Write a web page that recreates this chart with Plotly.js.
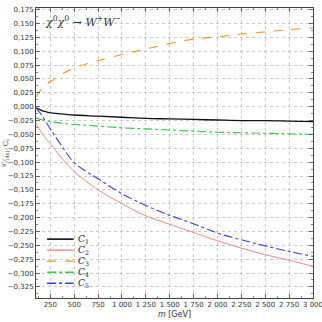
<!DOCTYPE html>
<html>
<head>
<meta charset="utf-8">
<script src="https://cdn.plot.ly/plotly-3.0.1.min.js"></script>
<style>
  html, body { margin: 0; padding: 0; background: #fff; }
  #chart { width: 322px; height: 322px; }
</style>
</head>
<body>
<div id="chart"></div>
<script>
// m [GeV]
const masses = [100, 150, 200, 250, 375, 500, 750, 1000, 1250, 1500, 1750, 2000, 2250, 2500, 2750, 3000];

// coefficient curves
const c1 = [-0.002, -0.006, -0.009, -0.011, -0.013, -0.015, -0.017, -0.019, -0.021, -0.022, -0.023, -0.024, -0.025, -0.025, -0.026, -0.027];
const c2 = [-0.030, -0.045, -0.057, -0.067, -0.094, -0.117, -0.150, -0.175, -0.197, -0.212, -0.227, -0.242, -0.255, -0.267, -0.277, -0.288];
const c3 = [0.018, 0.030, 0.039, 0.045, 0.059, 0.070, 0.083, 0.094, 0.104, 0.114, 0.122, 0.126, 0.131, 0.135, 0.139, 0.142];
const c4 = [-0.020, -0.023, -0.025, -0.027, -0.030, -0.032, -0.035, -0.038, -0.040, -0.042, -0.044, -0.046, -0.047, -0.048, -0.049, -0.050];
const c5 = [-0.002, -0.013, -0.026, -0.040, -0.072, -0.101, -0.130, -0.157, -0.178, -0.196, -0.211, -0.228, -0.240, -0.251, -0.261, -0.270];

const seriesNames = ['C<sub>1</sub>', 'C<sub>2</sub>', 'C<sub>3</sub>', 'C<sub>4</sub>', 'C<sub>5</sub>'];

// styles for each curve
const STYLES = [
    { color: '#111111', dash: 'solid', width: 1.3 },
    { color: '#f47a7a', dash: 'solid', width: 0.9 },
    { color: '#f7931e', dash: 'dash', width: 1.1 },
    { color: '#2ecc40', dash: 'dashdot', width: 1.1 },
    { color: '#3b3bf0', dash: 'dashdot', width: 1.1 }
];

const traces = [c1, c2, c3, c4, c5].map((vals, i) => ({
    x: masses,
    y: vals,
    type: 'scatter',
    mode: 'lines',
    name: seriesNames[i],
    showlegend: false,
    line: { color: STYLES[i].color, dash: STYLES[i].dash, width: STYLES[i].width, shape: 'spline' }
}));

// Compact legend (plotly's own legend rows are too tall for this size)
const legendShapes = [];
const legendLabels = [];
seriesNames.forEach((name, i) => {
    const yp = 0.203 - i * 0.038;
    legendShapes.push({
        type: 'line', xref: 'paper', yref: 'paper',
        x0: 0.04, x1: 0.136, y0: yp, y1: yp,
        line: { color: STYLES[i].color, dash: STYLES[i].dash, width: STYLES[i].width + 0.3 }
    });
    legendLabels.push({
        xref: 'paper', yref: 'paper', x: 0.145, y: yp,
        xanchor: 'left', yanchor: 'middle', showarrow: false,
        text: '<i>' + name.replace('<sub>', '</i><sub>'),
        font: { family: 'DejaVu Serif, serif', size: 9, color: '#222' }
    });
});

const axisCommon = {
    showline: true,
    linecolor: '#444',
    linewidth: 1,
    mirror: 'allticks',
    ticks: 'inside',
    ticklen: 4,
    tickcolor: '#666',
    showgrid: true,
    gridcolor: '#c8c8c8',
    griddash: 'dot',
    gridwidth: 1,
    zeroline: false,
    ticklabeloverflow: 'allow',
    tickfont: { family: 'DejaVu Sans, sans-serif', size: 7, color: '#333' }
};

const layout = {
    width: 322,
    height: 322,
    separators: ', ',
    paper_bgcolor: '#fff',
    plot_bgcolor: '#fff',
    margin: { l: 36, r: 9, t: 8, b: 24 },
    showlegend: false,
    shapes: legendShapes,
    xaxis: Object.assign({}, axisCommon, {
        range: [100, 3000],
        tickvals: [250, 500, 750, 1000, 1250, 1500, 1750, 2000, 2250, 2500, 2750, 3000],
        tickformat: ',d',
        minor: { dtick: 125, tick0: 0, ticks: 'inside', ticklen: 2, tickcolor: '#888', showgrid: false },
        title: { text: '<i>m</i> [GeV]', font: { family: 'DejaVu Sans, sans-serif', size: 8, color: '#333' }, standoff: 2 }
    }),
    yaxis: Object.assign({}, axisCommon, {
        range: [-0.345, 0.178],
        dtick: 0.025,
        tick0: 0,
        tickformat: '.3f',
        minor: { dtick: 0.0125, ticks: 'inside', ticklen: 2, tickcolor: '#888', showgrid: false },
        title: { text: '<sup>g²</sup>⁄<sub>(4π)²</sub> C<sub>i</sub>', font: { family: 'DejaVu Serif, serif', size: 7, color: '#333' }, standoff: 2 }
    }),
    annotations: [{
        xref: 'paper', yref: 'paper',
        x: 0.025, y: 0.985, xanchor: 'left', yanchor: 'top',
        showarrow: false,
        text: '<i>χ</i><sup>0</sup><i>χ</i><sup>0</sup> → <i>W</i><sup>+</sup><i>W</i><sup>−</sup>',
        font: { family: 'DejaVu Serif, serif', size: 11, color: '#333' }
    }].concat(legendLabels)
};

Plotly.newPlot('chart', traces, layout, { displayModeBar: false, staticPlot: true });
</script>
</body>
</html>
